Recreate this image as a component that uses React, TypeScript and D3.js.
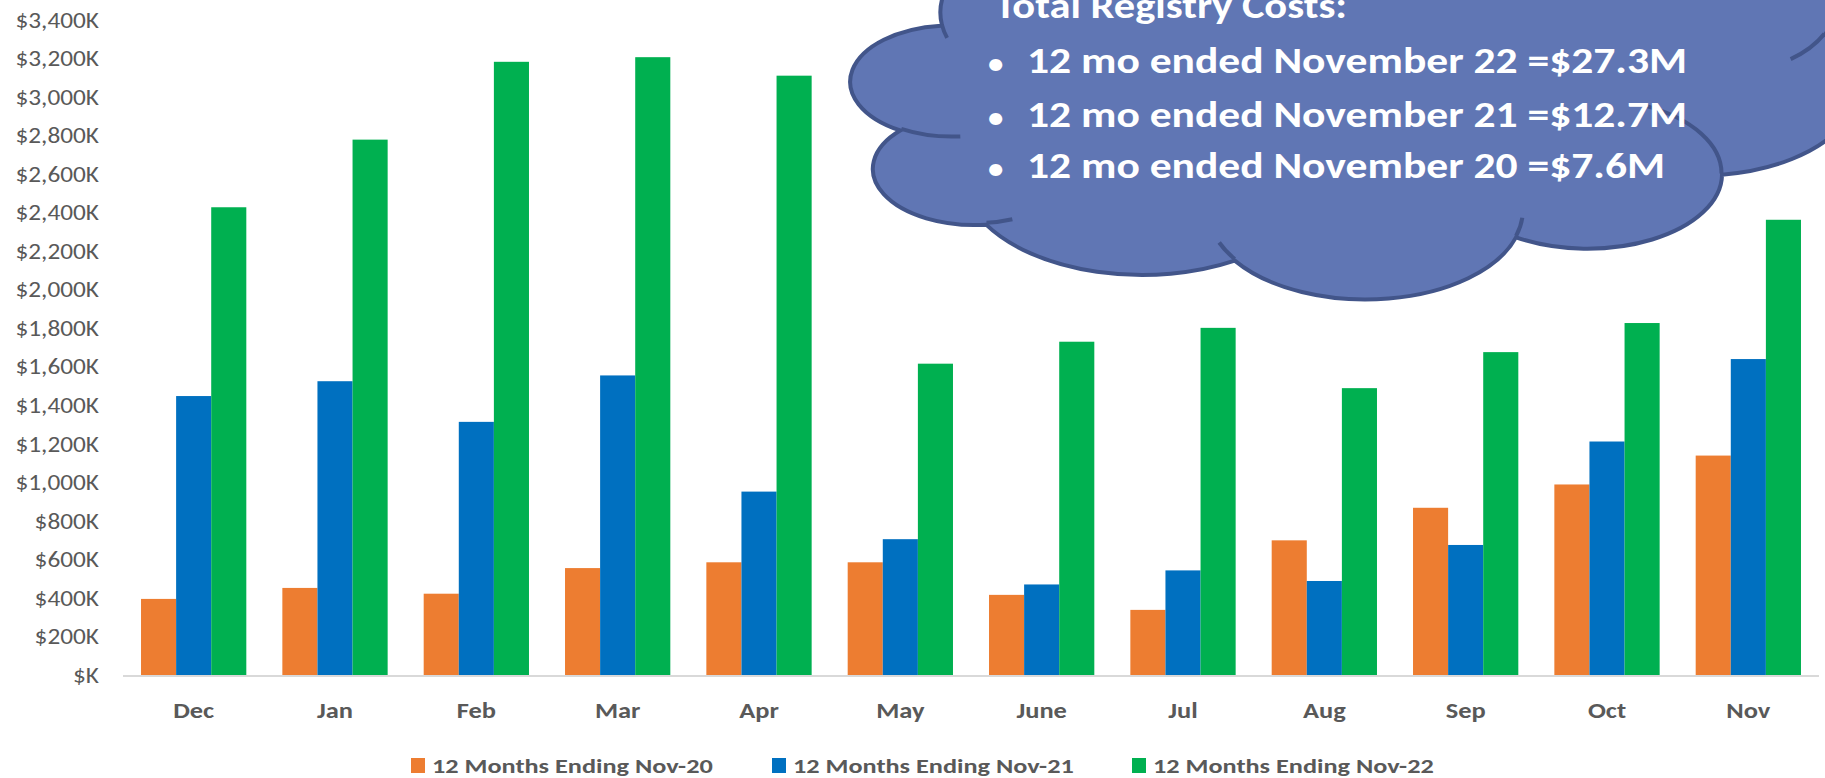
import React from 'react';
import * as d3 from 'd3';

const months = ['Dec', 'Jan', 'Feb', 'Mar', 'Apr', 'May', 'June', 'Jul', 'Aug', 'Sep', 'Oct', 'Nov'];
const seriesNames = ['12 Months Ending Nov-20', '12 Months Ending Nov-21', '12 Months Ending Nov-22'];
const nov20 = [395, 452, 422, 555, 585, 585, 416, 338, 699, 868, 989, 1139];
const nov21 = [1448, 1525, 1314, 1555, 952, 705, 470, 543, 488, 675, 1212, 1640];
const nov22 = [2428, 2779, 3183, 3207, 3111, 1616, 1730, 1802, 1489, 1676, 1827, 2363];
const yTicks = d3.range(0, 3401, 200);
const cloudTitle = 'Total Registry Costs:';
const cloudLines = [
  '12 mo ended November 22 =$27.3M',
  '12 mo ended November 21 =$12.7M',
  '12 mo ended November 20 =$7.6M',
];

const colors = ['#ED7D31', '#0070C0', '#00B050'];
const font = 'Carlito, Lato, sans-serif';
const gray = '#595959';

// powerpoint "cloud" preset geometry (43200 unit box)
const cloudStart = [3900, 14370];
const cloudArcs = [
  [6753, 9190, -11429249, 7426832],
  [5333, 7267, -8646143, 5396714],
  [4365, 5945, -8748475, 5983381],
  [4857, 6595, -7859164, 7034504],
  [5333, 7273, -4722533, 6541615],
  [6775, 9220, -2776035, 7816140],
  [5785, 7867, 37501, 6842000],
  [6752, 9215, 1347096, 6910353],
  [7720, 10543, 3974558, 4542661],
  [4360, 5918, -16496525, 8804134],
  [4345, 5945, -14809710, 9151131],
];
const cloudCreases = [
  [4693, 26177, 4345, 5945, 5204520, 1585770],
  [6928, 34899, 4360, 5918, 4416628, 686848],
  [16478, 39090, 6752, 9215, 8257449, 844866],
  [28827, 34751, 6752, 9215, 387196, 959901],
  [34129, 22954, 5785, 7867, -4217541, 4255042],
  [41798, 15354, 5333, 7273, 1819082, 1665090],
  [38324, 5426, 4857, 6595, -824660, 891534],
  [29078, 3952, 4857, 6595, -8950887, 1091722],
  [22141, 4720, 4365, 5945, -9809656, 1061181],
  [14000, 5192, 6753, 9190, -4002417, 739161],
  [4127, 15789, 6753, 9190, 9459261, 711490],
];

function arcEnd(px: number, py: number, wR: number, hR: number, st: number, sw: number) {
  const a1 = (st / 60000) * Math.PI / 180;
  const a2 = ((st + sw) / 60000) * Math.PI / 180;
  const t1 = Math.atan2(wR * Math.sin(a1), hR * Math.cos(a1));
  const t2 = Math.atan2(wR * Math.sin(a2), hR * Math.cos(a2));
  const cx = px - wR * Math.cos(t1);
  const cy = py - hR * Math.sin(t1);
  return [cx + wR * Math.cos(t2), cy + hR * Math.sin(t2)];
}

function cloudPaths(x0: number, y0: number, w: number, h: number) {
  const sx = w / 43200;
  const sy = h / 43200;
  const X = (v: number) => x0 + v * sx;
  const Y = (v: number) => y0 + v * sy;
  const seg = (p: number[], a: number[]) => {
    const [wR, hR, st, sw] = a;
    const e = arcEnd(p[0], p[1], wR, hR, st, sw);
    const large = Math.abs(sw / 60000) > 180 ? 1 : 0;
    const sweep = sw > 0 ? 1 : 0;
    return { e, d: `A${wR * sx},${hR * sy} 0 ${large} ${sweep} ${X(e[0])},${Y(e[1])}` };
  };
  let p = cloudStart;
  let outline = `M${X(p[0])},${Y(p[1])}`;
  cloudArcs.forEach(a => {
    const s = seg(p, a);
    outline += s.d;
    p = s.e;
  });
  outline += 'Z';
  const creases = cloudCreases.map(c => {
    const s = seg([c[0], c[1]], c.slice(2));
    return `M${X(c[0])},${Y(c[1])}` + s.d;
  }).join('');
  return { outline, creases };
}

// the source picture is stretched sideways, so text gets a horizontal scale
function SText({ x, y, k, children, ...rest }: any) {
  return (
    <text transform={`translate(${x},${y}) scale(${k},1)`} fontFamily={font} {...rest}>
      {children}
    </text>
  );
}

export default function App() {
  const width = 1825;
  const height = 778;
  const plotLeft = 123;
  const plotRight = 1819;
  const baseY = 675;
  const topY = 20;

  const x = d3.scaleBand().domain(months).range([plotLeft, plotRight]);
  const groupW = x.bandwidth() * 0.745;
  const xInner = d3.scaleBand<number>().domain([0, 1, 2]).range([0, groupW]);
  const y = d3.scaleLinear().domain([0, 3400]).range([baseY, topY]);
  const fmt = (v: number) => (v === 0 ? '$K' : '$' + d3.format(',')(v) + 'K');

  const series = [nov20, nov21, nov22];
  const cloud = cloudPaths(851, -112, 1006, 410);
  const lineY = [73, 127, 178];

  return (
    <svg width={width} height={height} style={{ position: 'absolute', left: 0, top: 0, background: '#fff' }}>
      {yTicks.map(t => (
        <SText key={t} x={99} y={y(t)} k={1.15} dy="0.35em" textAnchor="end" fontSize={22} fill={gray}>
          {fmt(t)}
        </SText>
      ))}

      {series.map((vals, si) => (
        <g key={si} fill={colors[si]}>
          {vals.map((v, i) => (
            <rect
              key={i}
              x={(x(months[i]) as number) + (x.bandwidth() - groupW) / 2 + (xInner(si) as number)}
              y={y(v)}
              width={xInner.bandwidth()}
              height={baseY - y(v)}
            />
          ))}
        </g>
      ))}

      <line x1={plotLeft} x2={plotRight} y1={baseY + 1} y2={baseY + 1} stroke="#D9D9D9" strokeWidth={2} />

      {months.map(m => (
        <SText key={m} x={(x(m) as number) + x.bandwidth() / 2} y={718} k={1.15} textAnchor="middle"
          fontWeight="bold" fontSize={23} fill={gray}>
          {m}
        </SText>
      ))}

      {seriesNames.map((name, i) => {
        const lx = [411, 772, 1132][i];
        return (
          <g key={name}>
            <rect x={lx} y={758} width={14} height={15} fill={colors[i]} />
            <SText x={lx + 21} y={773} k={1.25} fontWeight="bold" fontSize={21} fill={gray}>{name}</SText>
          </g>
        );
      })}

      <path d={cloud.outline} fill="#6076B4" stroke="#42558A" strokeWidth={4} />
      <path d={cloud.creases} fill="none" stroke="#42558A" strokeWidth={4} />

      <SText x={995} y={18} k={1.18} fontWeight="bold" fontSize={36} fill="#fff">{cloudTitle}</SText>
      {cloudLines.map((l, i) => (
        <g key={l}>
          <SText x={988} y={lineY[i]} k={1.1} fontWeight="bold" fontSize={28} fill="#fff">•</SText>
          <SText x={1027} y={lineY[i]} k={1.21} fontWeight="bold" fontSize={36} fill="#fff">{l}</SText>
        </g>
      ))}
    </svg>
  );
}
